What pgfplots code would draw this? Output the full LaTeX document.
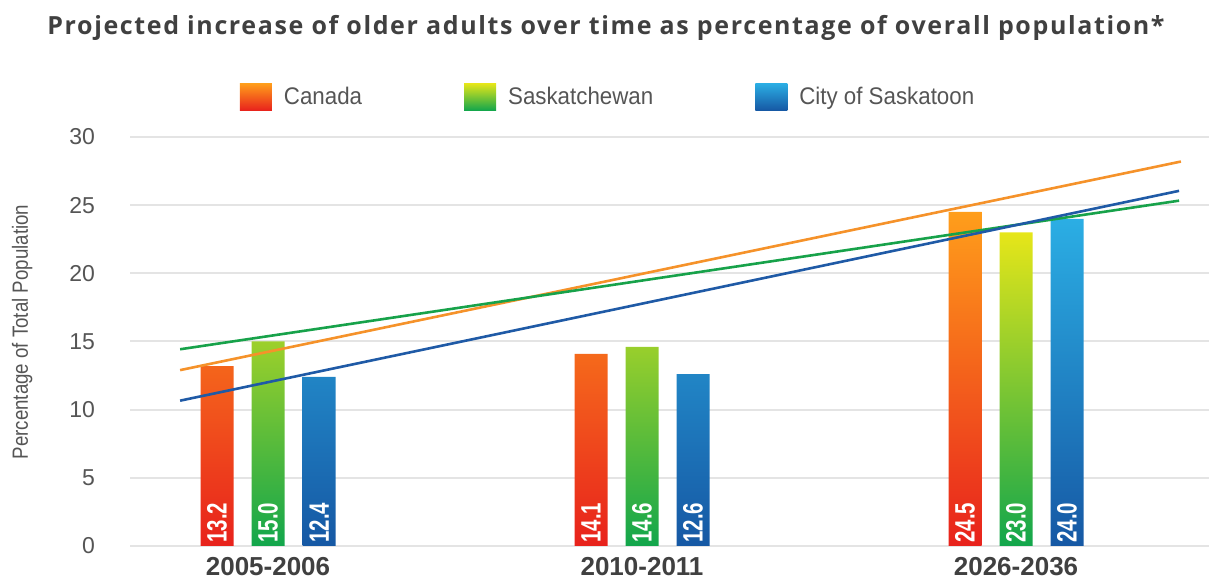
\documentclass[border=0pt]{standalone}
\usepackage{pgfplots}
\pgfplotsset{compat=1.18}
\usepackage{fontspec}
\setmainfont{Liberation Sans}
\newfontfamily\narrowfont{Liberation Sans}[FakeStretch=0.93]
\newfontfamily\ylabfont{Liberation Sans}[FakeStretch=0.85]
\newfontfamily\valfont{Liberation Sans}[FakeStretch=0.73]
\newfontfamily\titlefont{Open Sans}[LetterSpace=6.5]
\definecolor{txtgray}{HTML}{555555}
\definecolor{titlegray}{HTML}{404040}
\definecolor{gridgray}{HTML}{E4E4E4}
\definecolor{caTop}{HTML}{FF9E1B}
\definecolor{caMid}{HTML}{FF6A0D}
\definecolor{caBot}{HTML}{E8221C}
\definecolor{skTop}{HTML}{E6E619}
\definecolor{skMid}{HTML}{86C440}
\definecolor{skBot}{HTML}{12A64C}
\definecolor{ctTop}{HTML}{2BAEE4}
\definecolor{ctMid}{HTML}{1E87CB}
\definecolor{ctBot}{HTML}{1658A4}
\definecolor{lnOrange}{HTML}{F5922A}
\definecolor{lnGreen}{HTML}{17A24A}
\definecolor{lnBlue}{HTML}{1F5AA6}

\pgfplotstableread{
x  canada sask city
0  13.2   15.0 12.4
1  14.1   14.6 12.6
2  24.5   23.0 24.0
}\datatable

\begin{document}
\begin{tikzpicture}
\path[use as bounding box] (0,0) rectangle (604.5pt,290.5pt);
\node[font=\titlefont\bfseries\fontsize{12.5}{14}\selectfont, text=titlegray] at (303pt,276.5pt)
  {Projected increase of older adults over time as percentage of overall population*};
\begin{axis}[
  at={(65pt,17.5pt)}, anchor=south west,
  scale only axis, width=539.5pt, height=204.5pt,
  xmin=-0.369, xmax=2.516, ymin=0, ymax=30,
  xtick={0,1,2}, xticklabels={2005-2006,2010-2011,2026-2036},
  ytick={0,5,...,30},
  /pgf/number format/assume math mode=true,
  axis line style={draw=none},
  major tick length=0pt,
  ymajorgrids, grid style={draw=gridgray, line width=1pt},
  yticklabel style={font=\fontsize{11.5}{13}\selectfont, text=txtgray, xshift=-14pt},
  xticklabel style={font=\bfseries\fontsize{13}{15}\selectfont, text=titlegray, yshift=-2pt},
  every axis y label/.style={at={(axis description cs:-0.1,0.523)}, rotate=90, anchor=center},
  ylabel={Percentage of Total Population},
  ylabel style={font=\ylabfont\fontsize{11}{13}\selectfont, text=txtgray},
  legend columns=3,
  legend style={at={(axis description cs:0.444,1.098)}, anchor=center, draw=none, fill=none,
    font=\narrowfont\fontsize{12}{14}\selectfont, text=txtgray,
    /tikz/every even column/.append style={column sep=49pt},
    /tikz/every odd column/.append style={column sep=4pt}},
  legend cell align=left,
]
\addplot[ybar, bar width=16.5pt, bar shift=-25.5pt, draw=none, top color=caTop, middle color=caMid, bottom color=caBot,
  legend image code/.code={\shade[top color=caTop, middle color=caMid, bottom color=caBot] (0pt,-6.75pt) rectangle (16pt,6.75pt);}]
  table[x=x, y=canada] {\datatable};
\addlegendentry{Canada}
\addplot[ybar, bar width=16.5pt, bar shift=0pt, draw=none, top color=skTop, middle color=skMid, bottom color=skBot,
  legend image code/.code={\shade[top color=skTop, middle color=skMid, bottom color=skBot] (0pt,-6.75pt) rectangle (16pt,6.75pt);}]
  table[x=x, y=sask] {\datatable};
\addlegendentry{Saskatchewan}
\addplot[ybar, bar width=16.5pt, bar shift=25.5pt, draw=none, top color=ctTop, middle color=ctMid, bottom color=ctBot,
  legend image code/.code={\shade[top color=ctTop, middle color=ctMid, bottom color=ctBot] (0pt,-6.75pt) rectangle (16pt,6.75pt);}]
  table[x=x, y=city] {\datatable};
\addlegendentry{City of Saskatoon}
% value labels inside bars
\addplot[draw=none, mark=none, forget plot, nodes near coords, point meta=explicit symbolic,
  every node near coord/.style={rotate=90, anchor=west, inner sep=1.5pt, text=white,
    font=\valfont\bfseries\fontsize{14}{16}\selectfont}]
  coordinates {(-0.1364,0)[13.2] (0.8636,0)[14.1] (1.8636,0)[24.5]
               (0,0)[15.0] (1,0)[14.6] (2,0)[23.0]
               (0.1364,0)[12.4] (1.1364,0)[12.6] (2.1364,0)[24.0]};
% trend lines
\addplot[lnOrange, line width=1.3pt, forget plot] coordinates {(-0.235,12.9) (2.441,28.2)};
\addplot[lnGreen, line width=1.3pt, forget plot] coordinates {(-0.235,14.43) (2.436,25.33)};
\addplot[lnBlue, line width=1.3pt, forget plot] coordinates {(-0.235,10.66) (2.436,26.05)};
\end{axis}
\end{tikzpicture}
\end{document}
